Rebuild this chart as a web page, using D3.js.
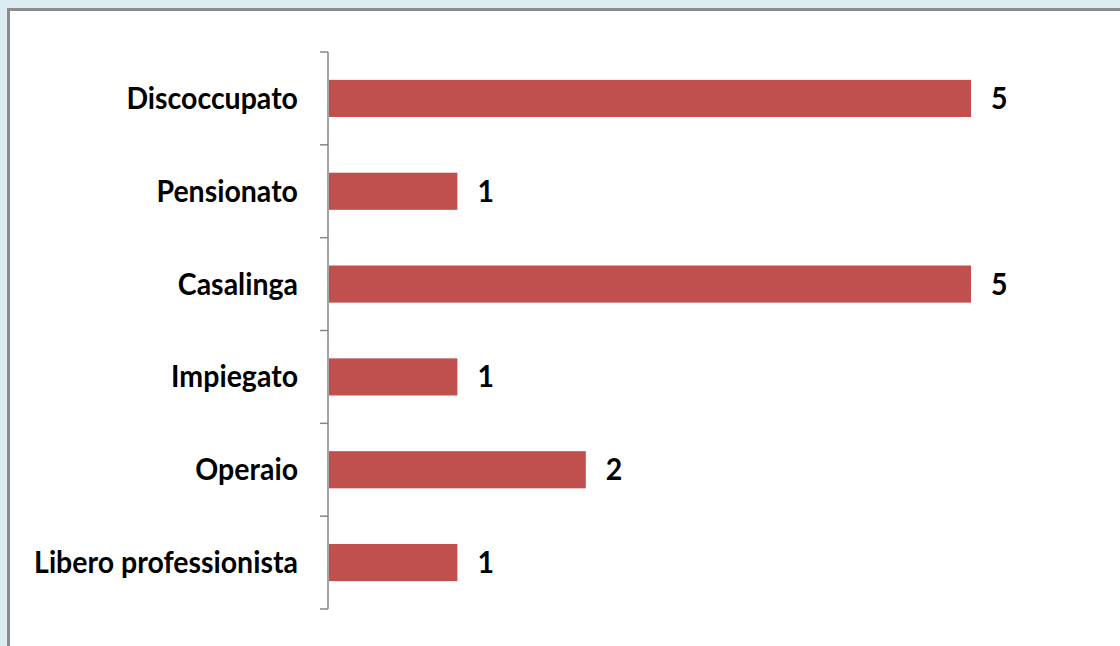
<!DOCTYPE html>
<html>
<head>
<meta charset="utf-8">
<script src="https://cdn.jsdelivr.net/npm/d3@7"></script>
<style>
  html, body { margin: 0; padding: 0; background: #dbecf2; }
  svg { display: block; }
  text { font-family: Lato, "Open Sans", sans-serif; font-weight: bold; fill: #000; }
</style>
</head>
<body>
<svg id="chart" width="1120" height="646"></svg>
<script>
// Occupation categories, listed top to bottom
const categories = ["Discoccupato", "Pensionato", "Casalinga", "Impiegato", "Operaio", "Libero professionista"];
// Count for each category
const counts = [5, 1, 5, 1, 2, 1];

const W = 1120, H = 646;
const FONT = 30, SQUEEZE = 0.95; // label size and horizontal condensing

const svg = d3.select("#chart");

// Background frame: light blue outer area, grey frame line, white panel
svg.append("rect").attr("x", 0).attr("y", 0).attr("width", W).attr("height", H).attr("fill", "#dbecf2");
svg.append("rect").attr("x", 7).attr("y", 8).attr("width", W).attr("height", H).attr("fill", "#8c8c8c");
svg.append("rect").attr("x", 10).attr("y", 11).attr("width", W).attr("height", H).attr("fill", "#ffffff");

const data = categories.map((c, i) => ({ cat: c, val: counts[i] }));

const x = d3.scaleLinear().domain([0, 5]).range([329, 971]);
const y = d3.scaleBand().domain(categories).range([52, 609]).paddingInner(0.6).paddingOuter(0.3);
const mid = d => y(d.cat) + y.bandwidth() / 2;

// Bars
svg.append("g").selectAll("rect").data(data).join("rect")
  .attr("x", x(0))
  .attr("y", d => y(d.cat))
  .attr("width", d => x(d.val) - x(0))
  .attr("height", y.bandwidth())
  .attr("fill", "#c0504d");

// Category axis: vertical line with ticks at band boundaries
const axisX = 328;
const step = y.step();
const y0 = y.range()[0];
const axis = svg.append("g").attr("stroke", "#868686").attr("stroke-width", 1.5);
axis.append("line").attr("x1", axisX).attr("x2", axisX).attr("y1", y0).attr("y2", y.range()[1]);
d3.range(categories.length + 1).forEach(i => {
  axis.append("line")
    .attr("x1", axisX - 8).attr("x2", axisX)
    .attr("y1", y0 + i * step).attr("y2", y0 + i * step);
});

// Category labels
svg.append("g").selectAll("text").data(data).join("text")
  .attr("transform", d => `translate(${axisX - 30},${mid(d)}) scale(${SQUEEZE},1)`)
  .attr("dy", "0.35em")
  .attr("text-anchor", "end")
  .attr("font-size", FONT)
  .text(d => d.cat);

// Value labels
svg.append("g").selectAll("text").data(data).join("text")
  .attr("transform", d => `translate(${x(d.val) + 20},${mid(d)}) scale(${SQUEEZE},1)`)
  .attr("dy", "0.35em")
  .attr("font-size", FONT)
  .text(d => d.val);
</script>
</body>
</html>
